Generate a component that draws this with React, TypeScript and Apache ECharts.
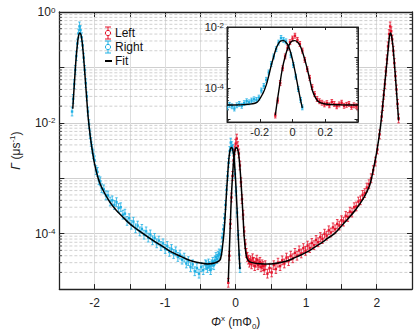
import React, { useEffect, useRef } from 'react';
import * as echarts from 'echarts';

const RED = '#e5132b';
const CYAN = '#1fb0e4';
const FONT = '"Liberation Sans", Arial, sans-serif';

// "Right" (cyan) measured points [flux, rate]
const rightPoints: [number, number][] = [
  [-2.32, 0.016], [-2.305, 0.027], [-2.29, 0.05], [-2.275, 0.09], [-2.26, 0.16], [-2.245, 0.27],
  [-2.23, 0.41], [-2.215, 0.55], [-2.2, 0.47], [-2.185, 0.35], [-2.17, 0.25], [-2.155, 0.15],
  [-2.14, 0.09], [-2.125, 0.052], [-2.11, 0.03], [-2.095, 0.016], [-2.08, 0.0095], [-2.065, 0.0062],
  [-2.05, 0.0045], [-2.035, 0.0034], [-2.02, 0.0027],
  [-2.0, 0.0021], [-1.98, 0.0014], [-1.96, 0.0013], [-1.94, 0.00092], [-1.92, 0.00088], [-1.9, 0.00066],
  [-1.87, 0.00063], [-1.84, 0.00049], [-1.81, 0.00049], [-1.78, 0.00038], [-1.75, 0.0004], [-1.72, 0.00033],
  [-1.69, 0.00037], [-1.66, 0.00029], [-1.63, 0.0003], [-1.6, 0.00022], [-1.57, 0.00023], [-1.54, 0.00017],
  [-1.51, 0.00019], [-1.48, 0.000145], [-1.45, 0.000165], [-1.42, 0.000125], [-1.39, 0.00014], [-1.36, 0.00011],
  [-1.33, 0.000122], [-1.3, 0.000096], [-1.27, 0.00011], [-1.24, 0.000085], [-1.21, 0.000097], [-1.18, 0.000076],
  [-1.15, 0.000084], [-1.12, 0.000067], [-1.09, 0.000075], [-1.06, 0.00006], [-1.03, 0.000067], [-1.0, 0.000053],
  [-0.97, 0.00006], [-0.94, 0.000047], [-0.91, 0.000053], [-0.88, 0.000043], [-0.85, 0.000048], [-0.82, 0.000038],
  [-0.79, 0.000042], [-0.76, 0.000034], [-0.73, 0.000037], [-0.7, 0.000029], [-0.67, 0.000032], [-0.64, 0.000025],
  [-0.61, 0.000028], [-0.58, 0.000021], [-0.55, 0.000024], [-0.52, 0.000019], [-0.49, 0.000025], [-0.46, 0.000022],
  [-0.43, 0.000028],
  [-0.415, 0.000027], [-0.4, 0.000024], [-0.385, 0.000029], [-0.37, 0.000026], [-0.355, 0.000022], [-0.34, 0.000028],
  [-0.325, 0.000031], [-0.31, 0.000027], [-0.295, 0.000033], [-0.28, 0.000038], [-0.265, 0.000035], [-0.25, 0.00004],
  [-0.235, 0.000044], [-0.22, 0.000042], [-0.205, 0.00005], [-0.19, 0.000085], [-0.175, 0.00012], [-0.16, 0.00019],
  [-0.145, 0.00033], [-0.13, 0.00062], [-0.115, 0.0011], [-0.1, 0.0019], [-0.085, 0.0031], [-0.07, 0.0044],
  [-0.055, 0.0038], [-0.04, 0.0034], [-0.025, 0.0022], [-0.01, 0.0012], [0.005, 0.00058], [0.02, 0.00024],
  [0.035, 0.000095], [0.05, 0.000042], [0.06, 0.000024],
];

// "Left" (red) measured points [flux, rate]
const leftPoints: [number, number][] = [
  [-0.105, 0.000013], [-0.09, 0.00004], [-0.075, 0.00015], [-0.06, 0.00045], [-0.045, 0.0011], [-0.03, 0.0021],
  [-0.015, 0.0032], [0.0, 0.0042], [0.015, 0.0052], [0.03, 0.0038], [0.045, 0.0028], [0.06, 0.0017],
  [0.075, 0.00085], [0.09, 0.00042], [0.105, 0.00022], [0.12, 0.00011], [0.135, 0.000065], [0.15, 0.000045],
  [0.165, 0.000038], [0.18, 0.000034], [0.195, 0.00003], [0.21, 0.000033], [0.225, 0.000028], [0.24, 0.000036],
  [0.255, 0.000031], [0.27, 0.000026], [0.285, 0.00003], [0.3, 0.000034], [0.315, 0.000027], [0.33, 0.000029],
  [0.345, 0.000031], [0.36, 0.000025], [0.375, 0.000028], [0.39, 0.000026], [0.405, 0.000022],
  [0.42, 0.000027], [0.45, 0.000019], [0.48, 0.000024], [0.51, 0.00002], [0.54, 0.000027], [0.57, 0.000023],
  [0.6, 0.00003], [0.63, 0.000026], [0.66, 0.000033], [0.69, 0.000029], [0.72, 0.000037], [0.75, 0.000032],
  [0.78, 0.00004], [0.81, 0.000036], [0.84, 0.000045], [0.87, 0.00004], [0.9, 0.00005], [0.93, 0.000044],
  [0.96, 0.000055], [0.99, 0.000049], [1.02, 0.000061], [1.05, 0.000055], [1.08, 0.000068], [1.11, 0.000062],
  [1.14, 0.000077], [1.17, 0.00007], [1.2, 0.000087], [1.23, 0.00008], [1.26, 0.0001], [1.29, 0.000092],
  [1.32, 0.000115], [1.35, 0.000105], [1.38, 0.00013], [1.41, 0.00012], [1.44, 0.00015], [1.47, 0.00014],
  [1.5, 0.000175], [1.53, 0.000165], [1.56, 0.00021], [1.59, 0.0002], [1.62, 0.00025], [1.65, 0.00024],
  [1.68, 0.0003], [1.71, 0.00031], [1.74, 0.00038], [1.77, 0.0004], [1.8, 0.0005], [1.83, 0.00054],
  [1.86, 0.00068], [1.89, 0.00078], [1.92, 0.001], [1.95, 0.0014], [1.98, 0.002], [2.01, 0.0033],
  [2.04, 0.0062], [2.07, 0.013], [2.085, 0.02], [2.1, 0.032], [2.115, 0.05], [2.13, 0.085],
  [2.145, 0.14], [2.16, 0.24], [2.175, 0.4], [2.19, 0.55], [2.205, 0.45], [2.22, 0.32],
  [2.235, 0.2], [2.25, 0.12], [2.265, 0.07], [2.28, 0.04], [2.295, 0.022], [2.31, 0.012],
];

// Fit curves
const rightFit: [number, number][] = [
  [-2.31, 0.018], [-2.29, 0.045], [-2.27, 0.11], [-2.25, 0.22], [-2.23, 0.36], [-2.21, 0.42],
  [-2.19, 0.37], [-2.17, 0.24], [-2.15, 0.12], [-2.13, 0.055], [-2.11, 0.025], [-2.09, 0.012],
  [-2.06, 0.0055], [-2.03, 0.003], [-2.0, 0.0018], [-1.95, 0.001], [-1.9, 0.00068], [-1.8, 0.0004],
  [-1.7, 0.00027], [-1.6, 0.0002], [-1.5, 0.00015], [-1.4, 0.00012], [-1.3, 0.000098], [-1.2, 0.00008],
  [-1.1, 0.000066], [-1.0, 0.000055], [-0.9, 0.000046], [-0.8, 0.00004], [-0.7, 0.000035], [-0.6, 0.0000315],
  [-0.5, 0.0000295], [-0.4, 0.0000285], [-0.3, 0.0000295], [-0.22, 0.000034], [-0.18, 0.00007], [-0.16, 0.00013],
  [-0.145, 0.00026], [-0.13, 0.00055], [-0.115, 0.00107], [-0.1, 0.002], [-0.085, 0.00295], [-0.07, 0.0035],
  [-0.055, 0.0036], [-0.04, 0.0032], [-0.025, 0.0024], [-0.01, 0.0014], [0.005, 0.00065], [0.02, 0.00027],
  [0.035, 0.0001], [0.05, 0.00004], [0.06, 0.000023],
];

const leftFit: [number, number][] = [
  [-0.105, 0.0000135], [-0.09, 0.00005], [-0.075, 0.000165], [-0.06, 0.0005], [-0.045, 0.00107], [-0.03, 0.002],
  [-0.015, 0.00295], [0.0, 0.0035], [0.015, 0.0036], [0.03, 0.00325], [0.045, 0.00255], [0.06, 0.0016],
  [0.075, 0.00087], [0.09, 0.00043], [0.105, 0.0002], [0.12, 0.00009], [0.14, 0.00005], [0.16, 0.000036],
  [0.2, 0.000031], [0.3, 0.000029], [0.4, 0.0000285], [0.5, 0.0000285], [0.6, 0.0000295], [0.7, 0.0000315],
  [0.8, 0.000035], [0.9, 0.00004], [1.0, 0.000046], [1.1, 0.000055], [1.2, 0.000066], [1.3, 0.000082],
  [1.4, 0.0001], [1.5, 0.000138], [1.6, 0.00019], [1.7, 0.00027], [1.8, 0.00041], [1.9, 0.00075],
  [1.95, 0.0014], [2.0, 0.003], [2.05, 0.008], [2.08, 0.018], [2.11, 0.045], [2.14, 0.11],
  [2.16, 0.2], [2.18, 0.36], [2.195, 0.42], [2.21, 0.37], [2.23, 0.24], [2.25, 0.12],
  [2.27, 0.055], [2.29, 0.025], [2.31, 0.011],
];

const legendNames = ['Left', 'Right', 'Fit'];
const ERR = 0.2;
const MULTS = [2, 3, 4, 5, 6, 7, 8, 9];
const MAIN_DECADES = [-5, -4, -3, -2, -1];
const INSET_DECADES = [-6, -5, -4, -3];

const MAIN = { left: 42, top: 12, width: 370, height: 279 };
const INSET = { left: 227, top: 27, width: 131, height: 95 };

function minorValues(decades: number[], lo: number, hi: number) {
  const out: number[] = [];
  decades.forEach((d) => MULTS.forEach((m) => {
    const v = m * Math.pow(10, d);
    if (v > lo * 1.0001 && v < hi * 0.9999) out.push(v);
  }));
  return out;
}

function errorBar(color: string, cap: number, mark: number) {
  return (params: any, api: any) => {
    const x = api.value(0);
    const y = api.value(1);
    const c = api.coord([x, y]);
    const hi = api.coord([x, y * (1 + ERR)]);
    const lo = api.coord([x, y / (1 + ERR)]);
    const st = { stroke: color, lineWidth: 0.8 };
    return {
      type: 'group',
      children: [
        { type: 'line', shape: { x1: c[0], y1: lo[1], x2: c[0], y2: hi[1] }, style: st },
        { type: 'line', shape: { x1: c[0] - cap, y1: lo[1], x2: c[0] + cap, y2: lo[1] }, style: st },
        { type: 'line', shape: { x1: c[0] - cap, y1: hi[1], x2: c[0] + cap, y2: hi[1] }, style: st },
        { type: 'rect', shape: { x: c[0] - mark / 2, y: c[1] - mark / 2, width: mark, height: mark }, style: { fill: color } },
      ],
    };
  };
}

function minorRender(tickLen: number, grid: boolean) {
  return (params: any, api: any) => {
    const cs = params.coordSys;
    const yy = api.coord([api.value(0), api.value(1)])[1];
    const children: any[] = [];
    if (grid) {
      children.push({ type: 'line', shape: { x1: cs.x, y1: yy, x2: cs.x + cs.width, y2: yy }, style: { stroke: '#c4c4c4', lineWidth: 0.8, lineDash: [3, 2] } });
    }
    children.push({ type: 'line', shape: { x1: cs.x, y1: yy, x2: cs.x + tickLen, y2: yy }, style: { stroke: '#222', lineWidth: 0.8 } });
    children.push({ type: 'line', shape: { x1: cs.x + cs.width - tickLen, y1: yy, x2: cs.x + cs.width, y2: yy }, style: { stroke: '#222', lineWidth: 0.8 } });
    return { type: 'group', children };
  };
}

const inRange = (arr: [number, number][], lo: number, hi: number) => arr.filter((p) => p[0] >= lo && p[0] <= hi);

const expLabel = (keepOdd: boolean) => (v: number) => {
  const e = Math.round(Math.log10(v));
  if (!keepOdd && Math.abs(e) % 2 === 1) return '';
  return `10{sup|${e}}`;
};

export default function App() {
  const ref = useRef<HTMLDivElement>(null);
  useEffect(() => {
    if (!ref.current) return;
    const chart = echarts.init(ref.current, null, { renderer: 'svg' });
    const axisLineStyle = { color: '#222', width: 1.3 };
    const supRich = {
      sup: { fontSize: 8, lineHeight: 8, verticalAlign: 'top', fontFamily: FONT, color: '#222' },
    };
    const mainMin = 1e-5, mainMax = 1;
    const insetMin = 8e-6, insetMax = 1e-2;
    const legendY = [33, 47, 61];
    const legendColors = [RED, CYAN, '#000'];
    const legendGraphics: any[] = [];
    legendNames.forEach((n, i) => {
      const y = legendY[i];
      const col = legendColors[i];
      if (i < 2) {
        legendGraphics.push({ type: 'line', z: 10, shape: { x1: 108, y1: y - 6, x2: 108, y2: y + 6 }, style: { stroke: col, lineWidth: 1 } });
        legendGraphics.push({ type: 'line', z: 10, shape: { x1: 105, y1: y - 6, x2: 111, y2: y - 6 }, style: { stroke: col, lineWidth: 1 } });
        legendGraphics.push({ type: 'line', z: 10, shape: { x1: 105, y1: y + 6, x2: 111, y2: y + 6 }, style: { stroke: col, lineWidth: 1 } });
        legendGraphics.push({ type: 'circle', z: 10, shape: { cx: 108, cy: y, r: 2.6 }, style: { stroke: col, fill: '#fff', lineWidth: 1 } });
      } else {
        legendGraphics.push({ type: 'line', z: 10, shape: { x1: 105, y1: y, x2: 112, y2: y }, style: { stroke: col, lineWidth: 2 } });
      }
      legendGraphics.push({ type: 'text', z: 10, x: 115, y, style: { text: n, fill: '#111', font: `12px ${FONT}`, textVerticalAlign: 'middle', verticalAlign: 'middle' } });
    });

    const option: any = {
      animation: false,
      backgroundColor: '#fff',
      textStyle: { fontFamily: FONT },
      grid: [
        { ...MAIN, containLabel: false, show: false },
        { ...INSET, containLabel: false, show: true, backgroundColor: '#fff', borderColor: '#222', borderWidth: 1, z: 3 },
      ],
      xAxis: [
        {
          type: 'value', gridIndex: 0, min: -2.5, max: 2.5, interval: 0.5, position: 'bottom',
          axisLine: { show: true, onZero: false, lineStyle: axisLineStyle },
          axisTick: { show: true, inside: true, length: 5, lineStyle: { color: '#222' } },
          axisLabel: {
            fontSize: 12, color: '#222', margin: 8, fontFamily: FONT,
            formatter: (v: number) => (Math.abs(v - Math.round(v)) < 1e-9 ? String(Math.round(v)) : ''),
          },
          splitLine: { show: true, lineStyle: { color: '#dedede', width: 1 } },
          name: '{it|Φ}{sup|x} (mΦ{sub|0})', nameLocation: 'middle', nameGap: 19,
          nameTextStyle: {
            fontSize: 12, color: '#222', lineHeight: 16, fontFamily: FONT,
            rich: {
              it: { fontStyle: 'italic', fontSize: 12, lineHeight: 16, fontFamily: FONT, color: '#222' },
              sup: { fontSize: 8, lineHeight: 8, verticalAlign: 'top', fontFamily: FONT, color: '#222' },
              sub: { fontSize: 8, lineHeight: 8, verticalAlign: 'bottom', fontFamily: FONT, color: '#222' },
            },
          },
        },
        {
          type: 'value', gridIndex: 0, min: -2.5, max: 2.5, interval: 0.5, position: 'top',
          axisLine: { show: true, onZero: false, lineStyle: axisLineStyle },
          axisTick: { show: true, inside: true, length: 5, lineStyle: { color: '#222' } },
          axisLabel: { show: false }, splitLine: { show: false },
        },
        {
          type: 'value', gridIndex: 1, min: -0.4, max: 0.4, interval: 0.2, position: 'bottom', z: 5,
          axisLine: { show: true, onZero: false, lineStyle: { color: '#222', width: 1 } },
          axisTick: { show: true, inside: true, length: 3, lineStyle: { color: '#222' } },
          axisLabel: {
            fontSize: 11, color: '#222', margin: 4, fontFamily: FONT,
            formatter: (v: number) => (Math.abs(v) > 0.3 ? '' : Math.abs(v) < 1e-9 ? '0' : v.toFixed(1)),
          },
          splitLine: { show: false },
        },
        {
          type: 'value', gridIndex: 1, min: -0.4, max: 0.4, interval: 0.2, position: 'top', z: 5,
          axisLine: { show: true, onZero: false, lineStyle: { color: '#222', width: 1 } },
          axisTick: { show: true, inside: true, length: 3, lineStyle: { color: '#222' } },
          axisLabel: { show: false }, splitLine: { show: false },
        },
      ],
      yAxis: [
        {
          type: 'log', logBase: 10, gridIndex: 0, min: mainMin, max: mainMax, position: 'left',
          axisLine: { show: true, onZero: false, lineStyle: axisLineStyle },
          axisTick: { show: true, inside: true, length: 5, lineStyle: { color: '#222' } },
          axisLabel: { fontSize: 12, color: '#222', margin: 4, fontFamily: FONT, formatter: expLabel(false), rich: supRich },
          splitLine: { show: true, lineStyle: { color: '#cfcfcf', width: 1 } },
          name: '{it|Γ} (μs{sup|-1})', nameLocation: 'middle', nameGap: 25,
          nameTextStyle: {
            fontSize: 12, color: '#222', lineHeight: 16, fontFamily: FONT,
            rich: {
              it: { fontStyle: 'italic', fontSize: 12, lineHeight: 16, fontFamily: FONT, color: '#222' },
              sup: { fontSize: 8, lineHeight: 8, verticalAlign: 'top', fontFamily: FONT, color: '#222' },
            },
          },
        },
        {
          type: 'log', logBase: 10, gridIndex: 0, min: mainMin, max: mainMax, position: 'right',
          axisLine: { show: true, onZero: false, lineStyle: axisLineStyle },
          axisTick: { show: true, inside: true, length: 5, lineStyle: { color: '#222' } },
          axisLabel: { show: false }, splitLine: { show: false },
        },
        {
          type: 'log', logBase: 10, gridIndex: 1, min: insetMin, max: insetMax, position: 'left', z: 5,
          axisLine: { show: true, onZero: false, lineStyle: { color: '#222', width: 1 } },
          axisTick: { show: true, inside: true, length: 3.5, lineStyle: { color: '#222' } },
          axisLabel: { fontSize: 11, color: '#222', margin: 3, fontFamily: FONT, formatter: expLabel(false), rich: supRich },
          splitLine: { show: false },
        },
        {
          type: 'log', logBase: 10, gridIndex: 1, min: insetMin, max: insetMax, position: 'right', z: 5,
          axisLine: { show: true, onZero: false, lineStyle: { color: '#222', width: 1 } },
          axisTick: { show: true, inside: true, length: 3.5, lineStyle: { color: '#222' } },
          axisLabel: { show: false }, splitLine: { show: false },
        },
      ],
      graphic: legendGraphics,
      series: [
        {
          type: 'custom', name: 'minorMain', xAxisIndex: 0, yAxisIndex: 0, z: 1, silent: true,
          renderItem: minorRender(2.5, true),
          data: minorValues(MAIN_DECADES, mainMin, mainMax).map((v) => [-2.5, v]),
        },
        {
          type: 'custom', name: 'Right', xAxisIndex: 0, yAxisIndex: 0, z: 2, silent: true,
          renderItem: errorBar(CYAN, 1.3, 2.4), data: rightPoints,
        },
        {
          type: 'custom', name: 'Left', xAxisIndex: 0, yAxisIndex: 0, z: 2, silent: true,
          renderItem: errorBar(RED, 1.3, 2.4), data: leftPoints,
        },
        {
          type: 'line', name: 'Fit', xAxisIndex: 0, yAxisIndex: 0, z: 3, showSymbol: false, smooth: 0.3,
          lineStyle: { color: '#000', width: 1.5 }, data: rightFit, silent: true,
        },
        {
          type: 'line', name: 'Fit', xAxisIndex: 0, yAxisIndex: 0, z: 3, showSymbol: false, smooth: 0.3,
          lineStyle: { color: '#000', width: 1.5 }, data: leftFit, silent: true,
        },
        {
          type: 'custom', name: 'minorInset', xAxisIndex: 2, yAxisIndex: 2, z: 6, silent: true,
          renderItem: minorRender(2, false),
          data: minorValues(INSET_DECADES, insetMin * 0.99, insetMax).map((v) => [-0.4, v]),
        },
        {
          type: 'custom', name: 'RightInset', xAxisIndex: 2, yAxisIndex: 2, z: 6, silent: true, clip: true,
          renderItem: errorBar(CYAN, 1.3, 2.4), data: inRange(rightPoints, -0.41, 0.41),
        },
        {
          type: 'custom', name: 'LeftInset', xAxisIndex: 2, yAxisIndex: 2, z: 6, silent: true, clip: true,
          renderItem: errorBar(RED, 1.3, 2.4), data: inRange(leftPoints, -0.41, 0.41),
        },
        {
          type: 'line', name: 'FitInsetR', xAxisIndex: 2, yAxisIndex: 2, z: 7, showSymbol: false, smooth: 0.3,
          lineStyle: { color: '#000', width: 1.4 }, data: inRange(rightFit, -0.41, 0.41), silent: true,
        },
        {
          type: 'line', name: 'FitInsetL', xAxisIndex: 2, yAxisIndex: 2, z: 7, showSymbol: false, smooth: 0.3,
          lineStyle: { color: '#000', width: 1.4 }, data: inRange(leftFit, -0.41, 0.41), silent: true,
        },
      ],
    };
    chart.setOption(option);
    return () => chart.dispose();
  }, []);
  return <div ref={ref} style={{ position: 'fixed', left: 0, top: 0, width: 415, height: 335 }} />;
}
